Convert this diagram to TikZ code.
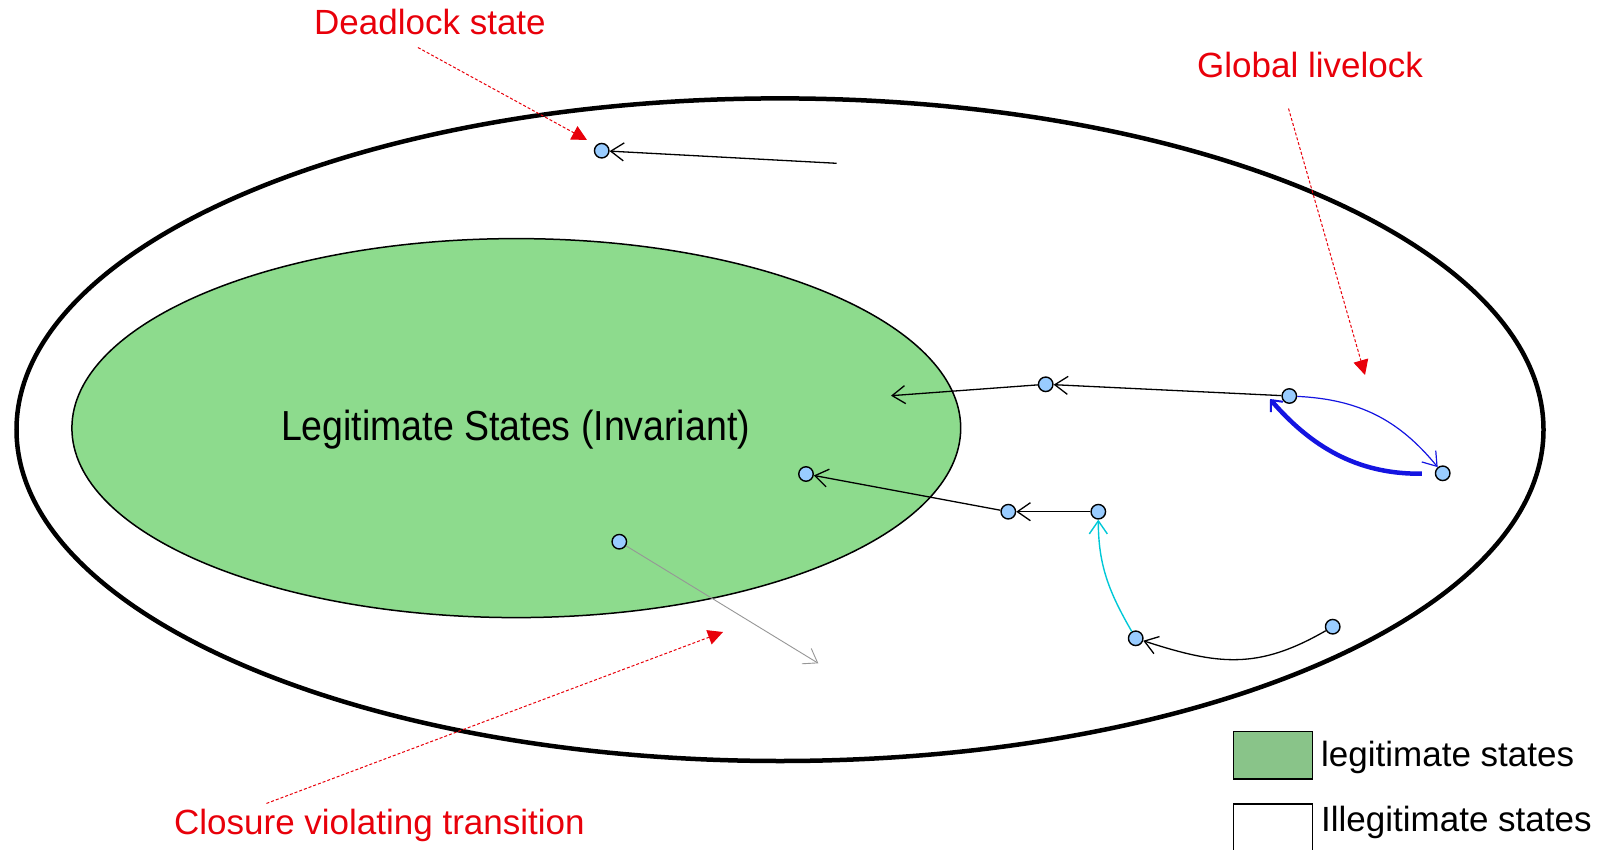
\documentclass[tikz,border=0pt]{standalone}
\usepackage{fontspec}
\setmainfont{Liberation Sans}
\usetikzlibrary{arrows.meta}
\definecolor{legitgreen}{RGB}{141,219,141}
\definecolor{keygreen}{RGB}{137,196,137}
\definecolor{nodeblue}{RGB}{153,204,255}
\definecolor{annotred}{RGB}{232,0,10}
\definecolor{loopblue}{RGB}{20,20,225}
\definecolor{recovcyan}{RGB}{0,200,215}
\definecolor{violgray}{RGB}{150,150,150}
\begin{document}
\begin{tikzpicture}[x=1pt,y=-1pt,
  state/.style={circle,draw=black,line width=1.4pt,fill=nodeblue,minimum size=14.5pt,inner sep=0pt},
  barb/.style={-{Straight Barb[length=13pt,width=18pt]}},
  trans/.style={draw=black,line width=1.3pt,barb},
  bluethin/.style={draw=loopblue,line width=1.2pt,barb},
  bluethick/.style={draw=loopblue,line width=4.5pt,-{Straight Barb[length=9pt,width=16pt,line width=2pt]}},
  cyanarc/.style={draw=recovcyan,line width=1.4pt,barb},
  grayarrow/.style={draw=violgray,line width=0.9pt,barb},
  note/.style={draw=annotred,line width=1pt,dash pattern=on 3pt off 2pt,-{Triangle[length=15pt,width=15pt]}},
  redlabel/.style={text=annotred,font=\fontsize{35}{42}\selectfont,inner sep=0pt,anchor=base west},
  keylabel/.style={text=black,font=\fontsize{35}{42}\selectfont,inner sep=0pt,anchor=base west},
  keybox/.style={draw=black,line width=1.3pt,minimum width=79pt,inner sep=0pt,anchor=north west},
]
\useasboundingbox (0,0) rectangle (1606,850);

% state space and invariant
\draw[line width=4.5pt] (780,429.7) ellipse [x radius=763.5, y radius=331.3];
\draw[line width=1.5pt,fill=legitgreen] (516.3,428.1) ellipse [x radius=444.4, y radius=189.5];
\node[font=\fontsize{37.5}{45}\selectfont,inner sep=0pt,anchor=base] (inv) at (515.5,440.7)
  {\scalebox{1}[1.12]{Legitimate States (Invariant)}};

% states
\node[state] (dead) at (601.7,150.7) {};
\node[state] (a) at (1045.7,384.3) {};
\node[state] (b) at (1289.3,396) {};
\node[state] (c) at (1442.7,473.3) {};
\node[state] (d) at (806,474) {};
\node[state] (e) at (1008.3,511.7) {};
\node[state] (f) at (1098.3,511.7) {};
\node[state] (g) at (1135.7,638.3) {};
\node[state] (h) at (1332.7,626.7) {};
\node[state] (i) at (619.3,541.7) {};
\coordinate (deadsrc) at (836.7,163.3);
\coordinate (aend) at (891,395.7);
\coordinate (iend) at (818.3,663.3);
\coordinate (looptip) at (1270,399);

% transitions
\draw[trans] (deadsrc) -- (dead);
\draw[trans] (a) -- (aend);
\draw[trans] (b) -- (a);
\draw[trans] (e) -- (d);
\draw[trans] (f) -- (e);
\draw[trans] (h) to[out=210,in=-18,looseness=1.1] (g);
\draw[cyanarc] (g) to[out=120,in=-90] (f);
\draw[bluethin] (b) to[bend left=24] (c);
\draw[bluethick,shorten <=13pt] (c) to[bend left=25] (looptip);
\draw[grayarrow] (i) -- (iend);

% annotations
\node[redlabel] (deadlbl) at (314,35) {Deadlock state};
\node[redlabel] (livelbl) at (1197,78) {Global livelock};
\node[redlabel] (closlbl) at (174,834) {Closure violating transition};
\coordinate (deadtip) at (587,140);
\coordinate (livetip) at (1365,375);
\coordinate (clostip) at (723,632);
\draw[note] ([xshift=-12pt,yshift=-12pt]deadlbl.south) -- (deadtip);
\draw[note] ([xshift=-21.5pt,yshift=-30pt]livelbl.south) -- (livetip);
\draw[note] ([xshift=-113pt,yshift=5pt]closlbl.north) -- (clostip);

% key
\node[keybox,fill=keygreen,minimum height=47.3pt] (keylegit) at (1232.7,731) {};
\node[keybox,fill=white,minimum height=50pt] (keyillegit) at (1232.7,803.3) {};
\node[keylabel] (keylegitlbl) at (1321,766.7) {legitimate states};
\node[keylabel] (keyillegitlbl) at (1321,831.7) {Illegitimate states};
\end{tikzpicture}
\end{document}
